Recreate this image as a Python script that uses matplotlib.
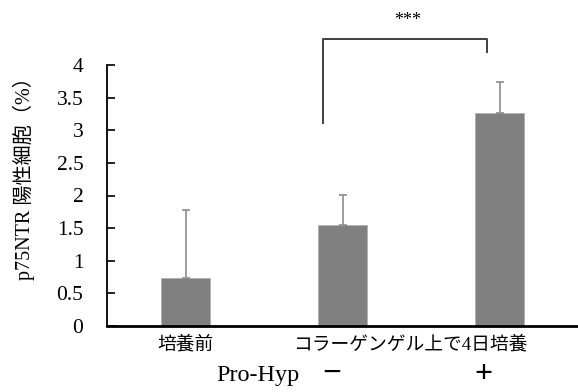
import matplotlib
matplotlib.use("Agg")
import matplotlib.pyplot as plt

categories = ["培養前", "", ""]
values = [0.73, 1.55, 3.27]
errors_upper = [1.05, 0.46, 0.47]
yticks = [0, 0.5, 1, 1.5, 2, 2.5, 3, 3.5, 4]
ytick_labels = ["0", "0.5", "1", "1.5", "2", "2.5", "3", "3.5", "4"]
group_label = "コラーゲンゲル上で4日培養"
prohyp_label = "Pro-Hyp"
prohyp_signs = ["−", "+"]
ylabel = "p75NTR 陽性細胞（%）"
sig_text = "***"

FAM = ["Liberation Serif", "Noto Sans CJK JP", "DejaVu Sans"]
plt.rcParams["font.family"] = FAM

fig = plt.figure(figsize=(5.78, 3.92), dpi=100)
ax = fig.add_axes([107/578, 66/392, 1 - 107/578, 261/392])

x = list(range(len(values)))
ax.bar(x, values, width=0.31, color="#808080", edgecolor="#b0b0b0", linewidth=0.6, zorder=2)
ax.errorbar(x, values, yerr=[[0]*len(values), errors_upper], fmt="none",
            ecolor="#8c8c8c", elinewidth=1.2, capsize=3, capthick=1.2, zorder=3)

ax.set_xlim(-0.5, 2.5)
ax.set_ylim(0, 4)
ax.set_yticks(yticks)
ax.set_yticklabels(ytick_labels, fontsize=15.5)
ax.tick_params(axis="y", direction="in", length=6, width=1.2, pad=17)
ax.set_xticks([])
for s in ["top", "right"]:
    ax.spines[s].set_visible(False)
ax.spines["left"].set_linewidth(1.3)
ax.spines["bottom"].set_linewidth(2.0)

# category labels
ax.text(0, -0.29, categories[0], ha="center", va="center", fontsize=13.5, clip_on=False)
ax.text(1.43, -0.29, group_label, ha="center", va="center", fontsize=13.5, clip_on=False)
ax.text(0.46, -0.76, prohyp_label, ha="center", va="center", fontsize=17.5, clip_on=False)
ax.text(0.93, -0.72, prohyp_signs[0], ha="center", va="center", fontsize=24, fontweight="bold", clip_on=False)
ax.text(1.90, -0.74, prohyp_signs[1], ha="center", va="center", fontsize=23, fontweight="bold", clip_on=False)

# significance bracket
ax.plot([0.876, 0.876, 1.92, 1.92], [3.11, 4.40, 4.40, 4.20], color="#404040", lw=1.4, clip_on=False)
ax.text(1.417, 4.68, sig_text, ha="center", va="center", fontsize=13, clip_on=False)

fig.text(24/578, 1 - 174/392, ylabel, rotation=90, ha="center", va="center", fontsize=14.5)

fig.savefig("out.png", dpi=100)
